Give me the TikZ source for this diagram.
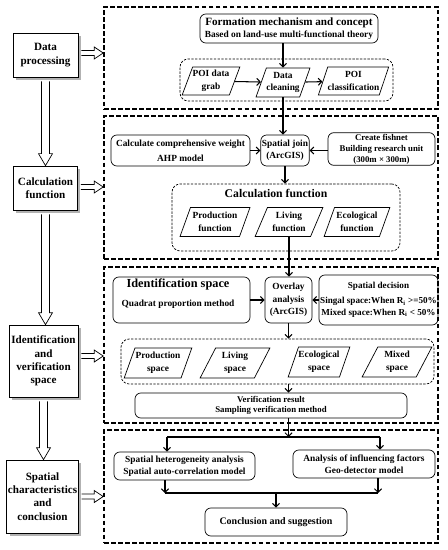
\documentclass[tikz,border=0pt]{standalone}
\usepackage{fontspec}
\setmainfont{Liberation Serif}
\usetikzlibrary{arrows.meta,shapes.geometric,shadows,calc}

\tikzset{
  sz/.style 2 args={minimum width=#1*0.3mm, minimum height=#2*0.3mm},
  side/.style={draw, fill=white, line width=0.6pt, align=center, inner sep=1pt,
    drop shadow={shadow xshift=2.5pt, shadow yshift=-2.5pt, fill=black!60},
    font=\bfseries\fontsize{9.5}{11.3}\selectfont},
  frame/.style={draw, line width=1.3pt, dash pattern=on 4pt off 2pt},
  group/.style={draw, line width=0.6pt, dash pattern=on 2pt off 1.2pt, rounded corners=7pt},
  rbox/.style={draw, line width=0.6pt, rounded corners=5pt, align=center, inner sep=1pt,
    font=\bfseries\fontsize{8}{10.5}\selectfont},
  para/.style={draw, line width=0.6pt, trapezium, trapezium left angle=64,
    trapezium right angle=116, trapezium stretches=true, align=center, inner sep=0pt,
    font=\bfseries\fontsize{8}{11}\selectfont},
  arr/.style={line width=0.9pt, -{Straight Barb[length=3pt,width=6pt]}},
  hollow/.style={draw, fill=white, line width=0.6pt, line join=miter},
}

\begin{document}
\begin{tikzpicture}[x=0.3mm, y=-0.3mm]
\useasboundingbox (0,0) rectangle (448,550);

% left column
\node[side, sz={65}{44}] (dp) at (45.5,55) {Data\\processing};
\node[side, sz={64}{44}] (cf) at (45.5,188) {Calculation\\function};
\node[side, sz={69}{72}] (iv) at (43.5,361) {Identification\\and\\verification\\space};
\node[side, sz={70}{73}] (sc) at (42.5,496.5) {Spatial\\characteristics\\and\\conclusion};

% dashed frames
\node[frame, sz={334}{102}] (fr1) at (271,58) {};
\node[frame, sz={334}{143}] (fr2) at (271,187.5) {};
\node[frame, sz={334}{156}] (fr3) at (271,345) {};
\node[frame, sz={334}{113}] (fr4) at (271,486.5) {};

% hollow arrows
\foreach \a/\b in {dp/cf, cf/iv, iv/sc}
  \draw[hollow] ($(\a.south)+(-4,4)$) -- ($(\a.south |- \b.north)+(-4,-12)$) -- ++(-3,0)
    -- (\a.south |- \b.north) -- ++(7,-12) -- ++(-3,0) -- ($(\a.south)+(4,4)$);
\foreach \a/\f/\d in {dp/fr1/-2, cf/fr2/-1, iv/fr3/-5, sc/fr4/0}
  \draw[hollow] ($(\a.east)+(3,\d-2.5)$) -- ($(\a.east -| \f.west)+(-9,\d-2.5)$) -- ++(0,-3.5)
    -- ($(\a.east -| \f.west)+(0,\d)$) -- ++(-9,6) -- ++(0,-3.5) -- ($(\a.east)+(3,\d+2.5)$);

% data processing
\node[rbox, sz={178}{29}] (form) at (289,28.5)
  {{\fontsize{9.5}{11}\selectfont Formation mechanism and concept}\\Based on land-use multi-functional theory};
\node[group, sz={213}{42}] (g1) at (286.5,80) {};
\node[para, sz={50}{28}] (grab) at (211,81) {POI data\\grab};
\node[para, sz={52}{29}] (clean) at (283,82.5) {Data\\cleaning};
\node[para, sz={63}{28}] (cls) at (353.5,81) {POI\\classification};
\draw[arr] (clean.north |- form.south) -- (clean.north);
\draw[arr] (grab) -- (clean);
\draw[arr] (clean) -- (cls);

% calculation function
\node[rbox, sz={139}{31}] (ahp) at (180.5,150.5) {Calculate comprehensive weight\\[2pt]AHP model};
\node[rbox, sz={45}{31}] (sj) at (285,150.5) {Spatial join\\(ArcGIS)};
\node[rbox, sz={107}{32}, font=\bfseries\fontsize{7.5}{9.5}\selectfont] (fish) at (381.5,149)
  {Create fishnet\\Building research unit\\(300m × 300m)};
\node[group, sz={228}{67}] (cg) at (286,217.5) {};
\node[font=\bfseries\fontsize{10}{12}\selectfont] (cgt) at (276,193) {Calculation function};
\node[para, sz={70}{29}] (pf) at (215,222) {Production\\function};
\node[para, sz={68}{29}] (lf) at (289,222) {Living\\function};
\node[para, sz={66}{29}] (ef) at (357,222) {Ecological\\function};
\draw[arr] (clean.south) -- (clean.south |- sj.north);
\draw[arr] (ahp.east |- sj.west) -- (sj.west);
\draw[arr] (fish.west |- sj.east) -- (sj.east);
\draw[arr] (sj.south) -- (sj.south |- cg.north);

% identification and verification space
\node[rbox, sz={137}{46}] (ids) at (181.5,300) {};
\node[font=\bfseries\fontsize{10.5}{12}\selectfont] (idt) at (178,284) {Identification space};
\node[font=\bfseries\fontsize{8}{10}\selectfont] (idm) at (178,304) {Quadrat proportion method};
\node[rbox, sz={47}{46}] (ov) at (288.5,300) {Overlay\\analysis\\(ArcGIS)};
\node[rbox, sz={115}{50}, font=\bfseries\fontsize{7.8}{10}\selectfont] (sd) at (378.5,300)
  {Spatial decision\\[3pt]Singal space:When R\textsubscript{i} >=50\%\\Mixed space:When R\textsubscript{i} < 50\%};
\node[group, sz={313}{45}] (sg) at (277.5,361.5) {};
\node[para, sz={68}{30}] (ps) at (158,363) {Production\\space};
\node[para, sz={70}{30}] (ls) at (235,363) {Living\\space};
\node[para, sz={62}{30}] (es) at (319,362) {Ecological\\space};
\node[para, sz={70}{30}] (ms) at (397,362) {Mixed\\space};
\node[rbox, sz={272}{25}, font=\bfseries\fontsize{7.5}{9}\selectfont] (vr) at (271,405.5)
  {Verification result\\Sampling verification method};
\draw[arr] (lf.south) -- (lf.south |- ov.north);
\draw[arr] (ids.east |- ov.west) -- (ov.west);
\draw[arr] (sd.west |- ov.east) -- (ov.east);
\draw[arr] (ov.south) -- (ov.south |- sg.north);
\draw[arr] (ov.south |- sg.south) -- (ov.south |- vr.north);

% spatial characteristics
\node[rbox, sz={141}{28}] (sh) at (184.5,466) {Spatial heterogeneity analysis\\Spatial auto-correlation model};
\node[rbox, sz={142}{28}] (ai) at (364,464) {Analysis of influencing factors\\Geo-detector model};
\node[rbox, sz={142}{28}, font=\bfseries\fontsize{8.5}{10}\selectfont] (cs) at (276,522) {Conclusion and suggestion};
\coordinate (jl) at (167,437);
\coordinate (jr) at (380,437);
\coordinate (ml) at (165,493);
\coordinate (mr) at (378,493);
\draw[arr] (ov.south |- vr.south) -- (ov.south |- jl);
\draw[line width=0.9pt] (jl) -- (jr);
\draw[arr] (jl) -- (jl |- sh.north);
\draw[arr] (jr) -- (jr |- ai.north);
\draw[arr] (ml |- sh.south) -- (ml);
\draw[arr] (mr |- ai.south) -- (mr);
\draw[line width=0.9pt] (ml) -- (mr);
\draw[arr] (cs.north |- ml) -- (cs.north);
\end{tikzpicture}
\end{document}
